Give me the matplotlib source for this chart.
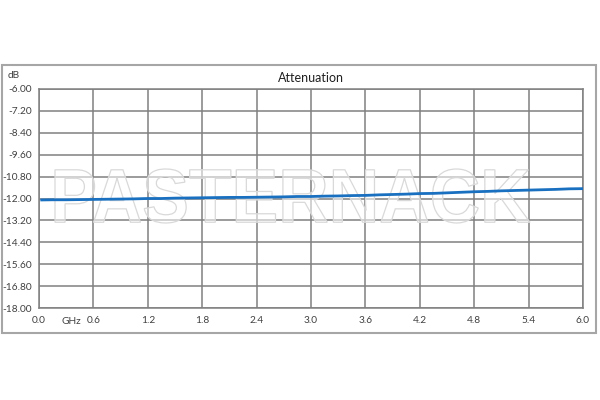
"""Courbe d'attenuation en fonction de la frequence."""

import numpy as np
import matplotlib
matplotlib.use("Agg")
import matplotlib.pyplot as plt
from matplotlib.patches import Rectangle, PathPatch
from matplotlib.textpath import TextPath
from matplotlib.font_manager import FontProperties
from matplotlib.transforms import Affine2D, IdentityTransform

# frequences (GHz) et attenuation lue (dB)
freq_ghz = [0.03, 0.15, 0.30, 0.45, 0.60, 0.75, 0.90, 1.05, 1.20, 1.35,
            1.50, 1.65, 1.80, 1.95, 2.10, 2.25, 2.40, 2.55, 2.70, 2.85,
            3.00, 3.15, 3.30, 3.45, 3.60, 3.75, 3.90, 4.05, 4.20, 4.35,
            4.50, 4.65, 4.80, 4.95, 5.10, 5.25, 5.40, 5.55, 5.70, 5.85, 6.00]
atten_db = [-12.08, -12.07, -12.07, -12.06, -12.05, -12.04, -12.03, -12.02, -12.00, -12.00,
            -11.98, -11.97, -11.96, -11.95, -11.94, -11.94, -11.93, -11.92, -11.91, -11.89,
            -11.89, -11.87, -11.86, -11.84, -11.83, -11.80, -11.78, -11.76, -11.73, -11.72,
            -11.69, -11.66, -11.63, -11.61, -11.58, -11.56, -11.54, -11.52, -11.50, -11.47, -11.46]

x_ticks = [0.0, 0.6, 1.2, 1.8, 2.4, 3.0, 3.6, 4.2, 4.8, 5.4, 6.0]
y_ticks = [-6.00, -7.20, -8.40, -9.60, -10.80, -12.00, -13.20, -14.40, -15.60, -16.80, -18.00]

plt.rcParams["font.family"] = ["Lato", "DejaVu Sans"]
grid_color = "#808080"
text_color = "#404040"

fig = plt.figure(figsize=(6, 4), dpi=100)
ax = fig.add_axes([39 / 600, 1 - 308 / 400, (583 - 39) / 600, (308 - 89) / 400])

# cadre exterieur
fig.patches.append(Rectangle((2 / 600, 1 - 333 / 400), 594 / 600, 268 / 400,
                             transform=fig.transFigure, fill=False,
                             edgecolor="#a6a6a6", linewidth=1.5, zorder=0))

ax.plot(freq_ghz, atten_db, color="#1a70c0", linewidth=2.0, zorder=4)

ax.set_xlim(0, 6)
ax.set_ylim(-18, -6)
ax.set_xticks(x_ticks)
ax.set_yticks(y_ticks)
ax.set_xticklabels([f"{v:.1f}" for v in x_ticks])
ax.set_yticklabels([f"{v:.2f}" for v in y_ticks])
ax.tick_params(length=0, labelsize=7.3, colors=text_color, pad=6)
ax.tick_params(axis="y", pad=5)
ax.grid(True, color=grid_color, linewidth=1.1)
ax.set_axisbelow(True)
for spine in ax.spines.values():
    spine.set_color(grid_color)
    spine.set_linewidth(1.1)

ax.set_title("Attenuation", fontsize=9, color="#202020", pad=5)
fig.text(8 / 600, 1 - 75 / 400, "dB", fontsize=7.3, color=text_color, va="center")
fig.text(62 / 600, 1 - 322 / 400, "GHz", fontsize=7.3, color=text_color, va="center")

# filigrane: mis a l'echelle sur la boite (55,169)-(530,223) en pixels
tp = TextPath((0, 0), "PASTERNACK", size=100,
              prop=FontProperties(family="Liberation Sans", weight="bold"))
ext = tp.get_extents()
box_x0, box_x1 = 55, 530
box_y0, box_y1 = 400 - 223, 400 - 169
scale = Affine2D().translate(-ext.x0, -ext.y0).scale(
    (box_x1 - box_x0) / ext.width, (box_y1 - box_y0) / ext.height).translate(box_x0, box_y0)
wm = PathPatch(scale.transform_path(tp), transform=IdentityTransform(),
               facecolor=(1, 1, 1, 0.55), edgecolor="#d9d9d9", linewidth=0.9,
               zorder=3, clip_on=False)
ax.add_artist(wm)

fig.savefig("out.png", dpi=100)
